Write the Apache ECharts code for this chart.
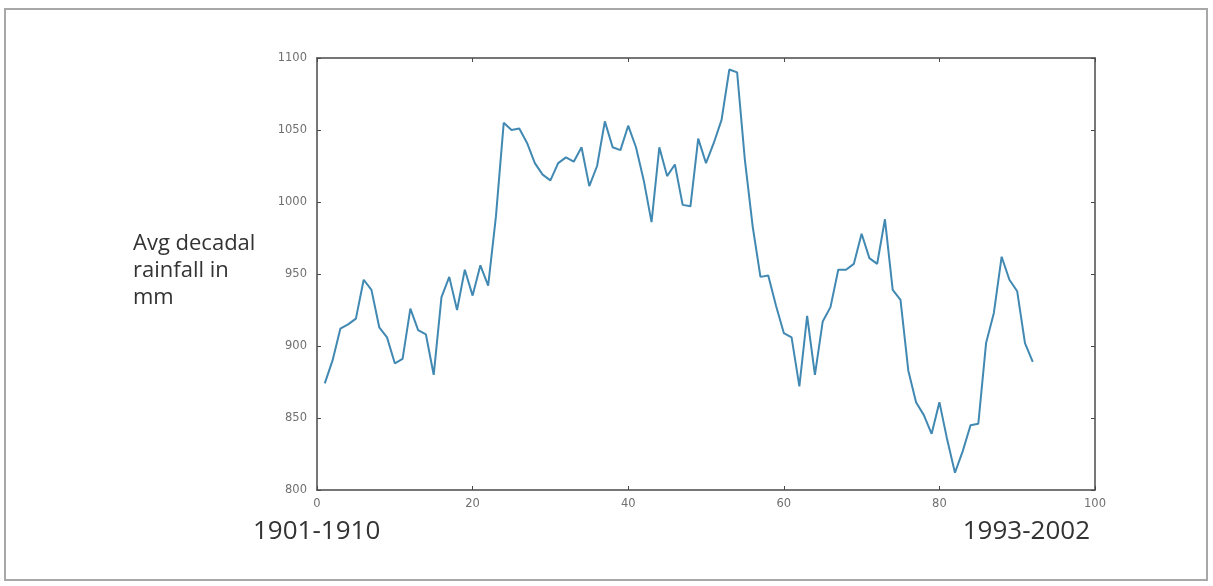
<!DOCTYPE html>
<html>
<head>
<meta charset="utf-8">
<script src="https://cdn.jsdelivr.net/npm/echarts@6/dist/echarts.min.js"></script>
<style>
  html, body { margin: 0; padding: 0; background: #fff; }
  #myChart { width: 1213px; height: 586px; }
</style>
</head>
<body>
<div id="myChart"></div>
<script>
// avg decadal rainfall (mm), one value per sliding decade, 1901-1910 ... 1993-2002
const rainfall = [
  874, 890, 912, 915, 919, 946, 939, 913, 906, 888,
  891, 926, 911, 908, 880, 934, 948, 925, 953, 935,
  956, 942, 990, 1055, 1050, 1051, 1041, 1027, 1019, 1015,
  1027, 1031, 1028, 1038, 1011, 1025, 1056, 1038, 1036, 1053,
  1038, 1015, 986, 1038, 1018, 1026, 998, 997, 1044, 1027,
  1041, 1057, 1092, 1090, 1029, 983, 948, 949, 928, 909,
  906, 872, 921, 880, 917, 927, 953, 953, 957, 978,
  961, 957, 988, 939, 932, 883, 861, 852, 839, 861,
  835, 812, 827, 845, 846, 902, 923, 962, 946, 938,
  902, 889
]
const firstLabel = '1901-1910'
const lastLabel = '1993-2002'
const yTitle = ['Avg decadal', 'rainfall in', 'mm']

const seriesData = rainfall.map((v, i) => [i + 1, v])

const axisColor = '#4a4a4a'
const labelStyle = { color: '#707070', fontSize: 11.5, fontFamily: 'DejaVu Sans', formatter: v => String(v) }

let myChart = echarts.init(document.getElementById('myChart'))

let options = {
  animation: false,
  backgroundColor: '#fff',
  grid: { left: 317, top: 58, right: 118, bottom: 96, show: false },
  xAxis: [
    {
      type: 'value',
      min: 0,
      max: 100,
      interval: 20,
      axisLine: { onZero: false, lineStyle: { color: axisColor, width: 1.5 } },
      axisTick: { inside: true, length: 4, lineStyle: { color: axisColor } },
      axisLabel: Object.assign({ margin: 8 }, labelStyle),
      splitLine: { show: false }
    },
    {
      type: 'value',
      position: 'top',
      min: 0,
      max: 100,
      interval: 20,
      axisLine: { onZero: false, lineStyle: { color: axisColor, width: 1.5 } },
      axisTick: { inside: true, length: 4, lineStyle: { color: axisColor } },
      axisLabel: { show: false },
      splitLine: { show: false }
    }
  ],
  yAxis: [
    {
      type: 'value',
      min: 800,
      max: 1100,
      interval: 50,
      axisLine: { show: true, onZero: false, lineStyle: { color: axisColor, width: 1.5 } },
      axisTick: { show: true, inside: true, length: 4, lineStyle: { color: axisColor } },
      axisLabel: Object.assign({ margin: 10 }, labelStyle),
      splitLine: { show: false }
    },
    {
      type: 'value',
      position: 'right',
      min: 800,
      max: 1100,
      interval: 50,
      axisLine: { show: true, onZero: false, lineStyle: { color: axisColor, width: 1.5 } },
      axisTick: { show: true, inside: true, length: 4, lineStyle: { color: axisColor } },
      axisLabel: { show: false },
      splitLine: { show: false }
    }
  ],
  series: [
    {
      type: 'line',
      data: seriesData,
      showSymbol: false,
      lineStyle: { color: '#4189b2', width: 2 },
      itemStyle: { color: '#4189b2' }
    }
  ],
  graphic: [
    {
      type: 'rect',
      shape: { x: 5, y: 9, width: 1202, height: 571 },
      style: { fill: 'none', stroke: '#a8a8a8', lineWidth: 2 },
      silent: true
    },
    {
      type: 'text',
      left: 133,
      top: 230,
      style: {
        text: yTitle.join('\n'),
        fill: '#333',
        font: '22px "Open Sans"',
        lineHeight: 27
      }
    },
    {
      type: 'text',
      left: 253,
      top: 519,
      style: { text: firstLabel, fill: '#333', font: '26px "Open Sans"' }
    },
    {
      type: 'text',
      right: 1213 - 1090,
      top: 519,
      style: { text: lastLabel, fill: '#333', font: '26px "Open Sans"' }
    }
  ]
}

myChart.setOption(options)
</script>
</body>
</html>
